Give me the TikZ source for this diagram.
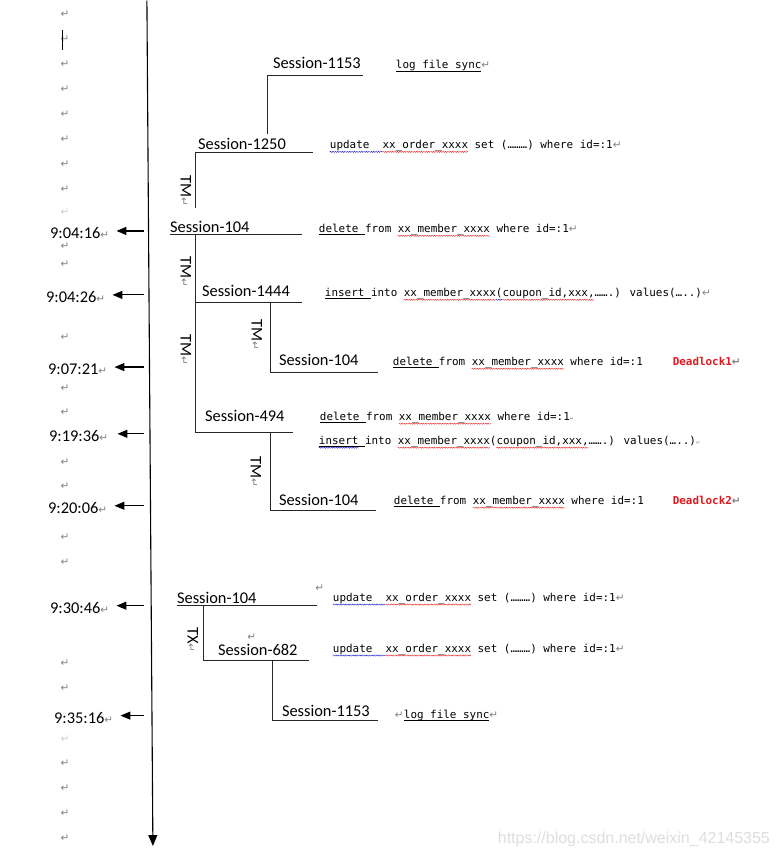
\documentclass[tikz,border=0pt]{standalone}
\usepackage{fontspec}
\setmainfont{Carlito}
\newfontfamily\monof{DejaVu Sans Mono}
\newfontfamily\symf{DejaVu Sans}
\newfontfamily\webf{Liberation Sans}
\usetikzlibrary{arrows.meta,calc,decorations.pathmorphing}
\definecolor{retgray}{RGB}{130,130,130}
\definecolor{dlred}{RGB}{225,25,30}
\definecolor{wavered}{RGB}{235,50,50}
\definecolor{waveblue}{RGB}{40,40,200}
\newcommand\sessfont{\fontsize{16.4bp}{18bp}\selectfont}
\newcommand\codefont{\monof\fontsize{10.93bp}{12bp}\selectfont}
\newcommand\retmark{{\symf\fontsize{10.5bp}{10bp}\selectfont\color{retgray}↵}}
\newcommand\tinyret{{\symf\fontsize{5bp}{5bp}\selectfont\color{retgray}↵}}
\def\cw{6.58}
\newcommand\blackul[3]{\draw[line width=0.7bp] ($(#1.base west)+({#2*\cw},2.4)$) -- ($(#1.base west)+({#3*\cw},2.4)$);}
\newcommand\wavyul[4]{\draw[#4, line width=0.45bp, decorate, decoration={snake, amplitude=0.6bp, segment length=2.4bp}] ($(#1.base west)+({#2*\cw},3.4)$) -- ($(#1.base west)+({#3*\cw},3.4)$);}
\begin{document}
\begin{tikzpicture}[x=1bp,y=-1bp,
  sess/.style={font=\sessfont, inner sep=0pt, anchor=base west},
  tlabel/.style={font=\sessfont, inner sep=0pt, anchor=base west},
  code/.style={font=\codefont, inner sep=0pt, anchor=base west},
  dead/.style={font=\codefont\bfseries, text=dlred, inner sep=0pt, anchor=base west},
  rotlab/.style={font=\sessfont, inner sep=0pt, rotate=-90},
  conn/.style={line width=0.9bp, black!85},
  ret/.style={inner sep=0pt, font=\symf\fontsize{10.5bp}{10bp}\selectfont, text=retgray},
  tarrow/.style={line width=1.2bp, -{Triangle[length=10bp,width=8bp]}},
  axisline/.style={line width=1.1bp, black, -{Triangle[length=11bp,width=9bp]}}
]
\fill[white] (0,0) rectangle (780,857);

% time axis
\coordinate (axtop) at (147,0);
\coordinate (axbot) at (153,846);
\draw[axisline] (axtop) -- (axbot);
\coordinate (axA) at (144,0);

% paragraph marks in the left column
\foreach \yy [count=\i] in {14,39,64,89,114,139,164,189,246,264,337,388,412,462,486,537,562,663,688,763,788,813,838}
  \node[ret] (lr\i) at (65,\yy) {↵};
\node[ret, opacity=0.4] (lrf1) at (65,212) {↵};
\node[ret, opacity=0.4] (lrf2) at (65,739) {↵};
\coordinate (cur1) at (62,29);
\coordinate (cur2) at (62,49);
\draw[line width=0.8bp] (cur1) -- (cur2);

% time labels
\node[tlabel] (t1) at (50,238) {9:04:16\retmark};
\node[tlabel] (t2) at (46,302) {9:04:26\retmark};
\node[tlabel] (t3) at (48,374) {9:07:21\retmark};
\node[tlabel] (t4) at (49,441) {9:19:36\retmark};
\node[tlabel] (t5) at (48,513) {9:20:06\retmark};
\node[tlabel] (t6) at (50,613) {9:30:46\retmark};
\node[tlabel] (t7) at (54,723) {9:35:16\retmark};
\foreach \n/\off in {1/7,2/7,3/7,4/9,5/7,6/7,7/7} {
  \coordinate (tip\n) at ($(t\n.east)+(\off,-2)$);
  \draw[tarrow] (tip\n -| axA) -- (tip\n);
}

% sessions
\node[sess] (s1153a) at (273,68) {Session-1153};
\node[sess] (s1250) at (198,149) {Session-1250};
\node[sess] (s104a) at (170,232) {Session-104};
\node[sess] (s1444) at (202,296) {Session-1444};
\node[sess] (s104b) at (279,365) {Session-104};
\node[sess] (s494) at (205,421) {Session-494};
\node[sess] (s104c) at (279,505) {Session-104};
\node[sess] (s104d) at (177,603) {Session-104};
\node[sess] (s682) at (218,655) {Session-682};
\node[sess] (s1153b) at (282,716) {Session-1153};
\node[ret] (r104d) at (320,588) {↵};
\node[ret] (r682) at (252,637) {↵};

% underline / branch coordinates
\coordinate (u1153al) at (268,75);  \coordinate (u1153ar) at (363,75);
\coordinate (u1250l) at (196,152);  \coordinate (u1250r) at (313,152);
\coordinate (u1250d) at (196,208);
\coordinate (u104al) at (170,234);  \coordinate (u104ar) at (302,234);
\coordinate (v104a) at (196,234);
\coordinate (u1444l) at (196,302);  \coordinate (u1444r) at (302,302);
\coordinate (v1444) at (271,302);
\coordinate (u104bl) at (271,372);  \coordinate (u104br) at (378,372);
\coordinate (u494l) at (196,432);   \coordinate (u494r) at (293,432);
\coordinate (v494) at (271,432);
\coordinate (u104cl) at (271,510);  \coordinate (u104cr) at (376,510);
\coordinate (u104dl) at (177,605);  \coordinate (u104dr) at (317,605);
\coordinate (v104d) at (204,605);
\coordinate (u682l) at (204,660);   \coordinate (u682r) at (309,660);
\coordinate (v682) at (273,660);
\coordinate (u1153bl) at (273,720); \coordinate (u1153br) at (378,720);

\draw[conn] (u1153ar) -- (u1153al) -- (u1153al |- 0,134);
\draw[conn] (u1250r) -- (u1250l) -- (u1250d);
\draw[conn] (u104al) -- (u104ar);
\draw[conn] (v104a) -- (u494l) -- (u494r);
\draw[conn] (u1444l) -- (u1444r);
\draw[conn] (v1444) -- (u104bl) -- (u104br);
\draw[conn] (v494) -- (u104cl) -- (u104cr);
\draw[conn] (u104dl) -- (u104dr);
\draw[conn] (v104d) -- (u682l) -- (u682r);
\draw[conn] (v682) -- (u1153bl) -- (u1153br);

% TM / TX labels
\node[rotlab] (tm1) at (186,190) {TM\retmark};
\node[rotlab] (tm2) at (186,272) {TM\retmark};
\node[rotlab] (tm3) at (186,350) {TM\retmark};
\node[rotlab] (tm4) at (257,335) {TM\retmark};
\node[rotlab] (tm5) at (256,472) {TM\retmark};
\node[rotlab] (tx1) at (193,640) {TX\retmark};

% statements
\node[code] (c1) at (396,68) {log file sync\retmark};
\blackul{c1}{0}{13}
\node[code] (c2) at (330,148) {update\ \ xx\_order\_xxxx set (………) where id=:1\retmark};
\wavyul{c2}{0}{8}{waveblue} \wavyul{c2}{8}{21}{wavered}
\node[code] (c3) at (319,232) {delete from xx\_member\_xxxx where id=:1\retmark};
\blackul{c3}{0}{7} \wavyul{c3}{12}{26}{wavered}
\node[code] (c4) at (325,296) {insert into xx\_member\_xxxx(coupon\_id,xxx,…….) values(…..)\retmark};
\blackul{c4}{0}{7} \wavyul{c4}{12}{26}{wavered} \wavyul{c4}{26}{27}{waveblue} \wavyul{c4}{27}{41}{wavered}
\node[code] (c5) at (393,365) {delete from xx\_member\_xxxx where id=:1};
\blackul{c5}{0}{7} \wavyul{c5}{12}{26}{wavered}
\node[dead] (d1) at (673,365) {Deadlock1\retmark};
\node[code] (c6) at (320,420) {delete from xx\_member\_xxxx where id=:1\tinyret};
\blackul{c6}{0}{7} \wavyul{c6}{12}{26}{wavered}
\node[code] (c7) at (319,444) {insert into xx\_member\_xxxx(coupon\_id,xxx,…….) values(…..)\tinyret};
\blackul{c7}{0}{7} \wavyul{c7}{0}{6}{waveblue} \wavyul{c7}{12}{26}{wavered} \wavyul{c7}{27}{41}{wavered}
\node[code] (c8) at (394,504) {delete from xx\_member\_xxxx where id=:1};
\blackul{c8}{0}{7} \wavyul{c8}{12}{26}{wavered}
\node[dead] (d2) at (673,504) {Deadlock2\retmark};
\node[code] (c9) at (333,601) {update\ \ xx\_order\_xxxx set (………) where id=:1\retmark};
\wavyul{c9}{0}{8}{waveblue} \wavyul{c9}{8}{21}{wavered}
\node[code] (c10) at (333,652) {update\ \ xx\_order\_xxxx set (………) where id=:1\retmark};
\wavyul{c10}{0}{8}{waveblue} \wavyul{c10}{8}{21}{wavered}
\node[code] (c11) at (404,718) {log file sync\retmark};
\blackul{c11}{0}{13}
\node[ret, anchor=base east] (r11) at (c11.base west) {↵};

% watermark
\node[inner sep=0pt, anchor=base west, font=\webf\fontsize{16bp}{18bp}\selectfont, text=black!13] (wm) at (498,843) {https://blog.csdn.net/weixin\_42145355};
\end{tikzpicture}
\end{document}
